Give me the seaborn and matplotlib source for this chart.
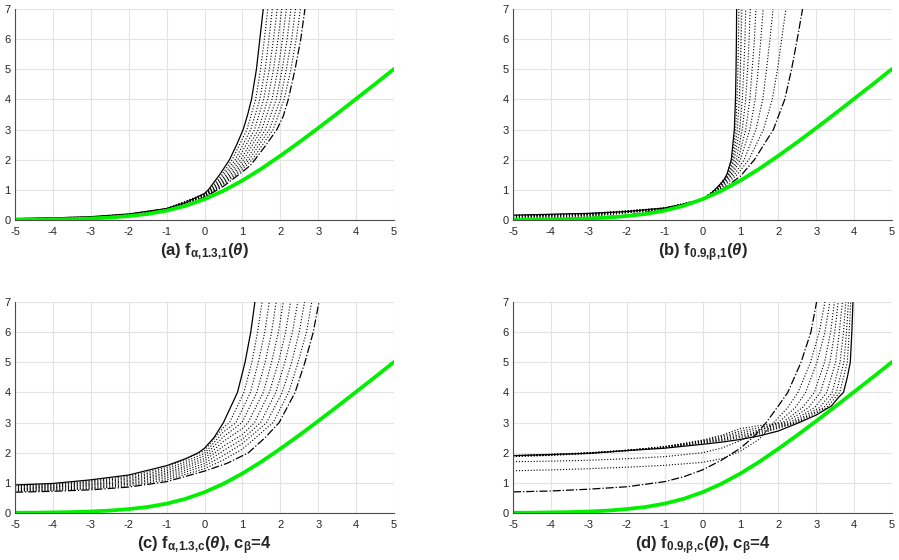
import matplotlib
matplotlib.use('Agg')
import matplotlib.pyplot as plt
import seaborn as sns

# green curve (log(1+e^theta)), the same in all four panels
green_theta = [-5, -4.5, -4, -3.5, -3, -2.5, -2, -1.5, -1, -0.5, 0,
               0.5, 1, 1.5, 2, 2.5, 3, 3.5, 4, 4.5, 5]
green_vals = [0.01, 0.01, 0.02, 0.03, 0.05, 0.08, 0.13, 0.2, 0.31, 0.47, 0.69,
              0.97, 1.31, 1.7, 2.13, 2.58, 3.05, 3.53, 4.02, 4.51, 5.01]

# ---- (a) f_{alpha,1.3,1}
a_solid_x = [-5, -4, -3, -2, -1, -0.5, 0, 0.1, 0.41, 0.66, 0.85, 1.02, 1.14, 1.24, 1.37, 1.46, 1.55]
a_solid_y = [0.05, 0.07, 0.11, 0.2, 0.38, 0.58, 0.88, 1.0, 1.52, 2.0, 2.5, 3.0, 3.5, 4.0, 5.0, 6.0, 7.0]
a_dash_x = [-5, -4, -3, -2, -1, -0.5, 0, 0.5, 0.9, 1.2, 1.33, 1.6, 1.91, 2.08, 2.21, 2.39, 2.54, 2.65]
a_dash_y = [0.01, 0.025, 0.06, 0.15, 0.34, 0.5, 0.75, 1.12, 1.5, 1.8, 2.0, 2.45, 3.0, 3.45, 4.0, 5.0, 6.0, 7.0]
a_dots_x = [
    [-5, -3, -2, -1, 0, 0.13, 0.46, 0.73, 1.12, 1.35, 1.48, 1.58, 1.67],
    [-5, -3, -2, -1, 0, 0.15, 0.51, 0.81, 1.22, 1.46, 1.60, 1.70, 1.79],
    [-5, -3, -2, -1, 0, 0.18, 0.57, 0.88, 1.32, 1.56, 1.71, 1.82, 1.92],
    [-5, -3, -2, -1, 0, 0.20, 0.62, 0.96, 1.42, 1.67, 1.82, 1.94, 2.04],
    [-5, -3, -2, -1, 0, 0.23, 0.68, 1.03, 1.51, 1.78, 1.94, 2.06, 2.16],
    [-5, -3, -2, -1, 0, 0.25, 0.73, 1.11, 1.61, 1.89, 2.05, 2.18, 2.28],
    [-5, -3, -2, -1, 0, 0.28, 0.79, 1.18, 1.71, 2.00, 2.16, 2.30, 2.40],
    [-5, -3, -2, -1, 0, 0.30, 0.84, 1.26, 1.81, 2.10, 2.28, 2.42, 2.53],
]
a_dots_y = [
    [0.045, 0.10, 0.19, 0.38, 0.87, 1, 1.5, 2, 3, 4, 5, 6, 7],
    [0.04, 0.10, 0.19, 0.37, 0.85, 1, 1.5, 2, 3, 4, 5, 6, 7],
    [0.035, 0.09, 0.18, 0.37, 0.84, 1, 1.5, 2, 3, 4, 5, 6, 7],
    [0.03, 0.09, 0.18, 0.36, 0.82, 1, 1.5, 2, 3, 4, 5, 6, 7],
    [0.03, 0.08, 0.17, 0.36, 0.81, 1, 1.5, 2, 3, 4, 5, 6, 7],
    [0.025, 0.08, 0.17, 0.35, 0.79, 1, 1.5, 2, 3, 4, 5, 6, 7],
    [0.02, 0.07, 0.16, 0.35, 0.78, 1, 1.5, 2, 3, 4, 5, 6, 7],
    [0.015, 0.07, 0.16, 0.34, 0.76, 1, 1.5, 2, 3, 4, 5, 6, 7],
]

# ---- (b) f_{0.9,beta,1}
b_solid_x = [-5, -4, -3, -2, -1, -0.5, 0, 0.2, 0.4, 0.55, 0.64, 0.76, 0.84, 0.87, 0.885, 0.895, 0.9]
b_solid_y = [0.16, 0.19, 0.22, 0.28, 0.4, 0.52, 0.69, 0.85, 1.1, 1.3, 1.5, 2.0, 3.0, 4.0, 5.0, 6.0, 7.0]
b_dash_x = [-5, -4, -3, -2, -1, -0.5, 0, 0.5, 1.0, 1.2, 1.37, 1.57, 1.87, 2.17, 2.35, 2.5, 2.64]
b_dash_y = [0.02, 0.035, 0.07, 0.16, 0.35, 0.5, 0.69, 1.0, 1.45, 1.75, 2.0, 2.4, 3.0, 4.0, 5.0, 6.0, 7.0]
b_dots_x = [
    [-5, -3, -1, 0, 0.4, 0.65, 0.78, 0.875, 0.91, 0.935, 0.95, 0.96],
    [-5, -3, -1, 0, 0.4, 0.67, 0.81, 0.92, 0.97, 1.0, 1.02, 1.04],
    [-5, -3, -1, 0, 0.4, 0.69, 0.84, 0.98, 1.05, 1.09, 1.12, 1.14],
    [-5, -3, -1, 0, 0.4, 0.71, 0.89, 1.05, 1.14, 1.19, 1.23, 1.26],
    [-5, -3, -1, 0, 0.4, 0.75, 0.94, 1.14, 1.25, 1.31, 1.37, 1.41],
    [-5, -3, -1, 0, 0.4, 0.78, 1.0, 1.25, 1.39, 1.47, 1.54, 1.60],
    [-5, -3, -1, 0, 0.4, 0.84, 1.1, 1.41, 1.59, 1.69, 1.78, 1.86],
    [-5, -3, -1, 0, 0.4, 0.91, 1.22, 1.61, 1.84, 1.98, 2.09, 2.20],
]
b_dots_y = [
    [0.155, 0.215, 0.40, 0.69, 1.08, 1.5, 2, 3, 4, 5, 6, 7],
    [0.15, 0.21, 0.39, 0.69, 1.06, 1.5, 2, 3, 4, 5, 6, 7],
    [0.14, 0.20, 0.39, 0.69, 1.04, 1.5, 2, 3, 4, 5, 6, 7],
    [0.13, 0.19, 0.38, 0.69, 1.02, 1.5, 2, 3, 4, 5, 6, 7],
    [0.12, 0.18, 0.38, 0.69, 1.0, 1.5, 2, 3, 4, 5, 6, 7],
    [0.10, 0.16, 0.37, 0.69, 0.98, 1.5, 2, 3, 4, 5, 6, 7],
    [0.08, 0.14, 0.36, 0.69, 0.96, 1.5, 2, 3, 4, 5, 6, 7],
    [0.05, 0.11, 0.36, 0.69, 0.94, 1.5, 2, 3, 4, 5, 6, 7],
]

# ---- (c) f_{alpha,1.3,c}, c_beta = 4
c_solid_x = [-5, -4, -3, -2, -1, -0.5, -0.16, 0, 0.25, 0.5, 0.87, 1.07, 1.22, 1.33]
c_solid_y = [0.93, 0.98, 1.1, 1.26, 1.57, 1.8, 2.0, 2.15, 2.5, 3.0, 4.0, 5.0, 6.0, 7.0]
c_dash_x = [-5, -4, -3, -2, -1, 0, 0.6, 1.16, 1.6, 1.97, 2.39, 2.65, 2.87, 3.02]
c_dash_y = [0.69, 0.72, 0.77, 0.86, 1.04, 1.39, 1.65, 2.0, 2.5, 3.0, 4.0, 5.0, 6.0, 7.0]
c_dots_x = [
    [-5, -4, -3, -2, -1, 0, 0.5, 0.66, 1.04, 1.25, 1.40, 1.52],
    [-5, -4, -3, -2, -1, 0, 0.5, 0.83, 1.21, 1.42, 1.59, 1.71],
    [-5, -4, -3, -2, -1, 0, 0.5, 0.99, 1.38, 1.60, 1.77, 1.89],
    [-5, -4, -3, -2, -1, 0, 0.5, 1.0, 1.15, 1.55, 1.77, 1.95, 2.08],
    [-5, -4, -3, -2, -1, 0, 0.5, 1.0, 1.32, 1.71, 1.95, 2.14, 2.27],
    [-5, -4, -3, -2, -1, 0, 0.5, 1.0, 1.48, 1.88, 2.12, 2.32, 2.46],
    [-5, -4, -3, -2, -1, 0, 0.5, 1.0, 1.64, 2.05, 2.30, 2.50, 2.64],
    [-5, -4, -3, -2, -1, 0, 0.5, 1.0, 1.81, 2.22, 2.47, 2.69, 2.83],
]
c_dots_y = [
    [0.90, 0.95, 1.06, 1.22, 1.51, 2.07, 2.84, 3, 4, 5, 6, 7],
    [0.88, 0.92, 1.03, 1.17, 1.45, 1.98, 2.69, 3, 4, 5, 6, 7],
    [0.85, 0.89, 0.99, 1.13, 1.39, 1.90, 2.53, 3, 4, 5, 6, 7],
    [0.82, 0.86, 0.95, 1.08, 1.33, 1.81, 2.38, 2.8, 3, 4, 5, 6, 7],
    [0.80, 0.84, 0.92, 1.04, 1.28, 1.73, 2.22, 2.6, 3, 4, 5, 6, 7],
    [0.77, 0.81, 0.88, 0.99, 1.22, 1.64, 2.07, 2.45, 3, 4, 5, 6, 7],
    [0.74, 0.78, 0.84, 0.95, 1.16, 1.56, 1.91, 2.3, 3, 4, 5, 6, 7],
    [0.72, 0.75, 0.81, 0.90, 1.10, 1.47, 1.76, 2.12, 3, 4, 5, 6, 7],
]

# ---- (d) f_{0.9,beta,c}, c_beta = 4
d_solid_x = [-5, -4, -3, -2, -1, 0, 0.5, 1, 1.5, 2, 2.55, 3.0, 3.4, 3.6, 3.72, 3.82, 3.9, 3.94, 3.97]
d_solid_y = [1.9, 1.94, 1.98, 2.07, 2.15, 2.28, 2.35, 2.44, 2.56, 2.72, 3.0, 3.25, 3.55, 3.85, 4.0, 4.5, 5.0, 6.0, 7.0]
d_dash_x = [-5, -4, -3, -2, -1, -0.5, 0, 0.5, 1, 1.35, 1.68, 2.0, 2.25, 2.6, 2.86, 3.01]
d_dash_y = [0.70, 0.73, 0.79, 0.87, 1.04, 1.2, 1.43, 1.75, 2.15, 2.53, 3.0, 3.55, 4.0, 5.0, 6.0, 7.0]
d_dots_x = [
    [-5, -4, -3, -2, -1, 0, 0.5, 1, 1.5, 1.88, 2.25, 2.52, 2.85, 3.08, 3.23],
    [-5, -4, -3, -2, -1, 0, 0.5, 1, 1.5, 2.0, 2.45, 2.72, 3.02, 3.23, 3.36],
    [-5, -4, -3, -2, -1, 0, 0.5, 1, 1.5, 2.11, 2.64, 2.95, 3.22, 3.38, 3.48],
    [-5, -4, -3, -2, -1, 0, 0.5, 1, 1.5, 2.2, 2.8, 3.11, 3.36, 3.49, 3.58],
    [-5, -4, -3, -2, -1, 0, 0.5, 1, 1.5, 2.3, 2.96, 3.28, 3.51, 3.61, 3.69],
    [-5, -4, -3, -2, -1, 0, 0.5, 1, 1.5, 2.38, 3.09, 3.42, 3.63, 3.72, 3.78],
    [-5, -4, -3, -2, -1, 0, 0.5, 1, 1.5, 2.44, 3.2, 3.53, 3.73, 3.80, 3.85],
    [-5, -4, -3, -2, -1, 0, 0.5, 1, 1.5, 2.50, 3.28, 3.62, 3.82, 3.87, 3.91],
]
d_dots_y = [
    [1.40, 1.43, 1.47, 1.52, 1.58, 1.68, 1.80, 2.05, 2.45, 3, 3.5, 4, 5, 6, 7],
    [1.70, 1.72, 1.75, 1.80, 1.87, 2.0, 2.15, 2.4, 2.75, 3, 3.5, 4, 5, 6, 7],
    [1.87, 1.91, 1.97, 2.06, 2.2, 2.42, 2.58, 2.8, 2.9, 3, 3.5, 4, 5, 6, 7],
    [1.88, 1.92, 1.98, 2.07, 2.2, 2.40, 2.54, 2.72, 2.83, 3, 3.5, 4, 5, 6, 7],
    [1.89, 1.93, 1.99, 2.08, 2.2, 2.38, 2.5, 2.66, 2.76, 3, 3.5, 4, 5, 6, 7],
    [1.90, 1.94, 1.99, 2.08, 2.19, 2.36, 2.46, 2.6, 2.7, 3, 3.5, 4, 5, 6, 7],
    [1.90, 1.94, 1.99, 2.08, 2.18, 2.34, 2.43, 2.55, 2.66, 3, 3.5, 4, 5, 6, 7],
    [1.91, 1.95, 2.0, 2.08, 2.17, 2.32, 2.40, 2.5, 2.62, 3, 3.5, 4, 5, 6, 7],
]

labels = [
    r'(a) $\mathbf{f_{\alpha{,}1.3{,}1}(}\mathbfit{\theta}\mathbf{)}$',
    r'(b) $\mathbf{f_{0.9{,}\beta{,}1}(}\mathbfit{\theta}\mathbf{)}$',
    r'(c) $\mathbf{f_{\alpha{,}1.3{,}c}(}\mathbfit{\theta}\mathbf{)}$, $\mathbf{c_{\beta}}$=4',
    r'(d) $\mathbf{f_{0.9{,}\beta{,}c}(}\mathbfit{\theta}\mathbf{)}$, $\mathbf{c_{\beta}}$=4',
]

sns.set_style('white')
plt.rcParams['font.family'] = ['Liberation Sans', 'DejaVu Sans']
plt.rcParams['axes.unicode_minus'] = False
plt.rcParams['mathtext.fontset'] = 'custom'
plt.rcParams['mathtext.rm'] = 'Liberation Sans'
plt.rcParams['mathtext.it'] = 'Liberation Sans:italic'
plt.rcParams['mathtext.bf'] = 'Liberation Sans:bold'
plt.rcParams['mathtext.bfit'] = 'Liberation Sans:italic:bold'

fig = plt.figure(figsize=(8.99, 5.6), dpi=100)
W, H = 899, 560
boxes = [(15, 9), (513, 9), (15, 302), (513, 302)]   # left, top in pixels

panels = [
    (a_solid_x, a_solid_y, a_dash_x, a_dash_y, a_dots_x, a_dots_y),
    (b_solid_x, b_solid_y, b_dash_x, b_dash_y, b_dots_x, b_dots_y),
    (c_solid_x, c_solid_y, c_dash_x, c_dash_y, c_dots_x, c_dots_y),
    (d_solid_x, d_solid_y, d_dash_x, d_dash_y, d_dots_x, d_dots_y),
]

for i, (sx, sy, dx, dy, ox, oy) in enumerate(panels):
    left, top = boxes[i]
    ax = fig.add_axes([left / W, 1 - (top + 211) / H, 379 / W, 211 / H])

    for xs, ys in zip(ox, oy):
        sns.lineplot(x=xs, y=ys, ax=ax, color='black', lw=0.8, linestyle=':')
    sns.lineplot(x=sx, y=sy, ax=ax, color='black', lw=0.9)
    sns.lineplot(x=dx, y=dy, ax=ax, color='black', lw=0.9, linestyle='-.')
    sns.lineplot(x=green_theta, y=green_vals, ax=ax, color='#00f000', lw=2.7)

    ax.set_xlim(-5, 5)
    ax.set_ylim(0, 7)
    ax.set_xticks(range(-5, 6))
    ax.set_yticks(range(0, 8))
    ax.grid(True, color='#e3e3e3', lw=0.8)
    ax.set_axisbelow(True)
    for s in ['top', 'right']:
        ax.spines[s].set_visible(False)
    for s in ['left', 'bottom']:
        ax.spines[s].set_color('#4d4d4d')
        ax.spines[s].set_linewidth(0.8)
    ax.tick_params(direction='in', length=3, width=0.6, colors='#4d4d4d',
                   labelsize=8, labelcolor='#262626', pad=3)
    ax.tick_params(axis='x', pad=5)
    ax.set_xlabel(labels[i], fontsize=12, fontweight='bold', labelpad=3)
    ax.set_ylabel('')

fig.savefig('out.png', dpi=100)
